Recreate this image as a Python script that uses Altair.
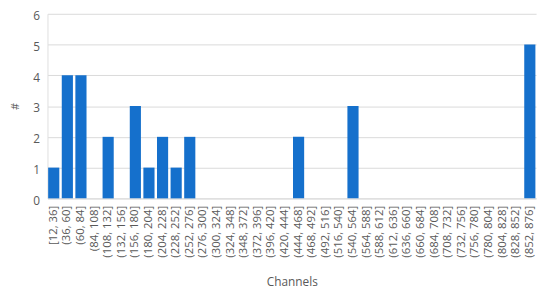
import altair as alt
import pandas as pd

edges = list(range(12, 877, 24))
categories = [f"[{edges[0]}, {edges[1]}]"] + [f"({edges[i]}, {edges[i+1]}]" for i in range(1, len(edges) - 1)]
counts = [1, 4, 4, 0, 2, 0, 3, 1, 2, 1, 2,
          0, 0, 0, 0, 0, 0, 0,
          2, 0, 0, 0, 3,
          0, 0, 0, 0, 0, 0, 0, 0, 0, 0, 0, 0,
          5]

df = pd.DataFrame({"bin": categories, "count": counts})

chart = alt.Chart(df).mark_bar(color="#1570CC").encode(
    x=alt.X("bin:N", sort=categories, title="Channels",
            scale=alt.Scale(paddingInner=0.18, paddingOuter=0.05),
            axis=alt.Axis(labelAngle=-90, labelFontSize=11.5, labelFont="Open Sans",
                          labelColor="#595959", domainColor="#d9d9d9", ticks=False,
                          labelPadding=7, titleFont="Open Sans", titleFontSize=12,
                          titleFontWeight="normal", titleColor="#595959", titlePadding=20)),
    y=alt.Y("count:Q", title="#",
            scale=alt.Scale(domain=[0, 6]),
            axis=alt.Axis(values=[0, 1, 2, 3, 4, 5, 6], labelFontSize=12, labelFont="Open Sans",
                          labelColor="#595959", domain=True, domainColor="#e0e0e0", ticks=False,
                          gridColor="#d9d9d9",
                          labelPadding=8, labelOffset=2, titleFont="Open Sans", titleFontSize=11,
                          titleFontWeight="normal", titleColor="#595959", titlePadding=12)),
).properties(
    width=495, height=187,
    autosize=alt.AutoSizeParams(type="none"),
    padding={"left": 40, "top": 4, "right": 6, "bottom": 93},
).configure_view(stroke=None)

chart.save("out.html", embed_options={"renderer": "svg", "actions": False})
